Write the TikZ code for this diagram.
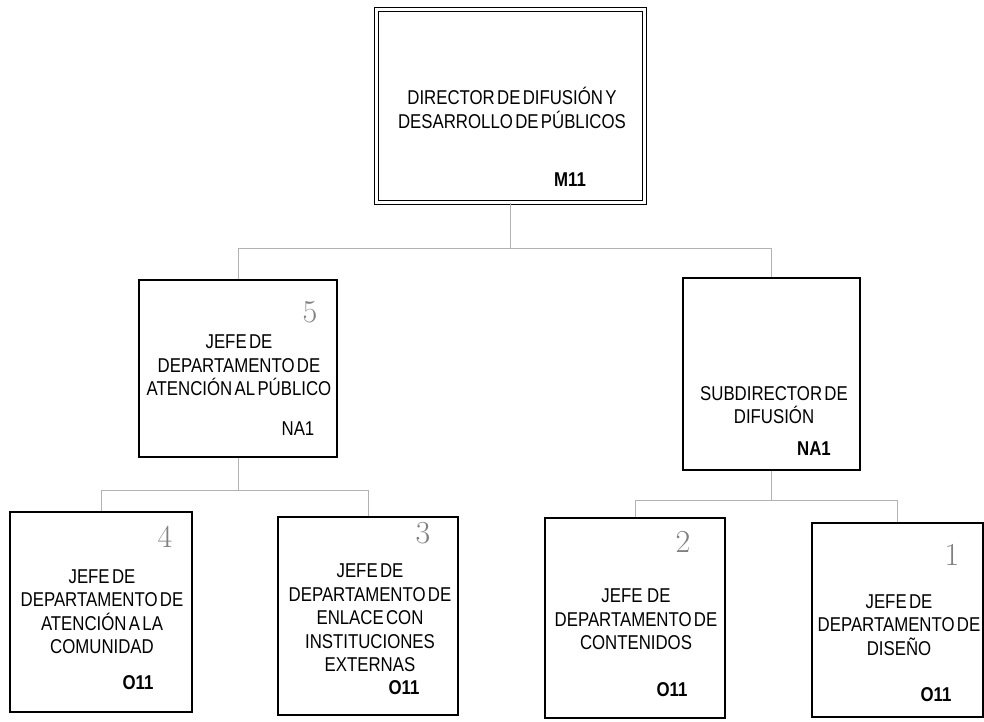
\documentclass[tikz,border=0pt]{standalone}
\usepackage{fontspec}
\newfontfamily\orgf[FakeStretch=0.84,WordSpace=0.5]{Liberation Sans}
\usetikzlibrary{calc}
\begin{document}
\begin{tikzpicture}[x=1pt,y=-1pt,
  box/.style={draw=black,line width=1.3pt,inner sep=0pt},
  dbox/.style={draw=black,double=white,double distance=3.2pt,line width=1.1pt,inner sep=0pt},
  lbl/.style={font=\orgf\fontsize{20}{23.5}\selectfont,align=center,inner sep=0pt},
  code/.style={font=\orgf\bfseries\fontsize{20}{20}\selectfont,inner sep=0pt},
  codereg/.style={font=\orgf\fontsize{20}{20}\selectfont,inner sep=0pt},
  hand/.style={font=\fontsize{32}{32}\selectfont,text=black!50,inner sep=0pt},
  conn/.style={draw=black!30,line width=0.8pt}]
\fill[white] (0,0) rectangle (984,721);
\clip (0,0) rectangle (984,721);

% boxes
\node[dbox,minimum width=268pt,minimum height=193pt] (dir) at (510.5,106) {};
\node[box,minimum width=198pt,minimum height=177pt] (atp) at (238,368.5) {};
\node[box,minimum width=177pt,minimum height=192pt] (sub) at (771.5,374) {};
\node[box,minimum width=182pt,minimum height=200pt] (b4) at (101,612) {};
\node[box,minimum width=180pt,minimum height=198pt] (b3) at (368,616) {};
\node[box,minimum width=180pt,minimum height=200pt] (b2) at (635,618) {};
\node[box,minimum width=171pt,minimum height=194pt] (b1) at (897.5,620) {};

% texts
\node[lbl] (tdir) at (512,108) {DIRECTOR DE DIFUSIÓN Y\\DESARROLLO DE PÚBLICOS};
\node[code] (cdir) at (570,180) {M11};
\node[lbl] (tatp) at (239,365.5) {JEFE DE\\DEPARTAMENTO DE\\ATENCIÓN AL PÚBLICO};
\node[codereg] (catp) at (298,429) {NA1};
\node[hand] (h5) at (310,312) {5};
\node[lbl] (tsub) at (774,405) {SUBDIRECTOR DE\\DIFUSIÓN};
\node[code] (csub) at (814,449) {NA1};
\node[lbl] (t4) at (102,611.5) {JEFE DE\\DEPARTAMENTO DE\\ATENCIÓN A LA\\COMUNIDAD};
\node[code] (c4) at (138,683) {O11};
\node[hand] (h4) at (165,537) {4};
\node[lbl] (t3) at (370,618) {JEFE DE\\DEPARTAMENTO DE\\ENLACE CON\\INSTITUCIONES\\EXTERNAS};
\node[code] (c3) at (404,688) {O11};
\node[hand] (h3) at (423,533) {3};
\node[lbl] (t2) at (636,619.5) {JEFE\ \ DE\\DEPARTAMENTO DE\\CONTENIDOS};
\node[code] (c2) at (672,690) {O11};
\node[hand] (h2) at (683,542) {2};
\node[lbl] (t1) at (899,625) {JEFE DE\\DEPARTAMENTO DE\\DISEÑO};
\node[code] (c1) at (936,695) {O11};
\node[hand] (h1) at (952,555) {1};

% connectors
\path (dir.south) ++(0,45) coordinate (j1);
\draw[conn] (dir.south) -- (j1);
\draw[conn] (atp.north) |- (j1) -| (sub.north);
\path (atp.south) ++(0,33) coordinate (j2);
\draw[conn] (atp.south) -- (j2);
\draw[conn] (b4.north) |- (j2) -| (b3.north);
\path (sub.south) ++(0,30) coordinate (j3);
\draw[conn] (sub.south) -- (j3);
\draw[conn] (b2.north) |- (j3) -| (b1.north);
\end{tikzpicture}
\end{document}
